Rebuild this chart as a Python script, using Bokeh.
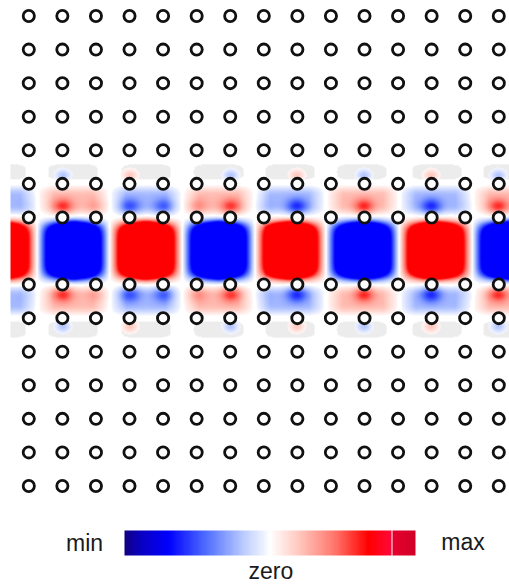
import numpy as np
from bokeh.plotting import figure
from bokeh.models import LinearColorMapper, Range1d
from bokeh.core.properties import value
from bokeh.embed import file_html
from bokeh.resources import INLINE

# Square lattice of dielectric rods (lattice constant = 1); row 0 is removed (line defect)
rod_cols = list(range(15))
rod_rows = [-7, -6, -5, -4, -3, -2, -1, 1, 2, 3, 4, 5, 6, 7]

# Guided mode along the defect: lobe centres (lattice units) and field sign of each lobe
lobe_x = [-0.84, 1.30, 3.48, 5.64, 7.80, 9.93, 12.17, 14.28]
lobe_sign = [1, -1, 1, -1, 1, -1, 1, -1]

# Colour scale labels
bar_labels = ["min", "zero", "max"]

PX = 33.57  # screen pixels per lattice constant

# ---- colour map: blue (min) -> white (zero) -> red (max) ----
stops = [
    (0.00, (18, 0, 130)),
    (0.05, (10, 0, 190)),
    (0.15, (0, 0, 255)),
    (0.28, (80, 110, 255)),
    (0.40, (180, 198, 255)),
    (0.50, (255, 255, 255)),
    (0.60, (255, 200, 190)),
    (0.72, (255, 120, 110)),
    (0.84, (255, 0, 0)),
    (0.915, (255, 8, 56)),
    (0.925, (230, 0, 44)),
    (1.00, (208, 0, 40)),
]
pos = np.array([s[0] for s in stops])
rgb = np.array([s[1] for s in stops], dtype=float)
t = np.linspace(0, 1, 256)
palette = []
for ti in t:
    c = [np.interp(ti, pos, rgb[:, k]) for k in range(3)]
    palette.append("#%02x%02x%02x" % tuple(int(round(v)) for v in c))
palette[235] = "#ffffff"  # thin separator in the red end of the scale

mapper = LinearColorMapper(palette=palette, low=-1.0, high=1.0,
                           nan_color="rgba(0, 0, 0, 0)")
gray_mapper = LinearColorMapper(palette=["#ececec"], low=0, high=2,
                                nan_color="rgba(0, 0, 0, 0)")

# ---- field of the guided mode ----
x0_img, x1_img = -0.545, 14.32
y0_img, y1_img = -3.0, 3.0
nx, ny = 500, 202
xs = np.linspace(x0_img, x1_img, nx)
ys = np.linspace(y0_img, y1_img, ny)
X, Y = np.meshgrid(xs, ys)
dpx = np.abs(Y) * PX  # distance from the waveguide axis in pixels

half = float(np.mean(np.diff(lobe_x)))
C = np.zeros_like(X)
for xc, s in zip(lobe_x, lobe_sign):
    u = (X - xc) / half
    C += s * np.where(np.abs(u) < 1, np.cos(np.pi * u / 2), 0.0)

# main lobes in the defect row
main = 2.6 * C * np.exp(-(dpx / 27.5) ** 6)
# weaker lobes of opposite sign beyond the first rod rows
band = np.exp(-((dpx - 50.0) / 12.5) ** 4)
side = -0.24 * np.clip(2.0 * C, -1, 1) * band

spots = np.zeros_like(X)
gray = np.zeros_like(X)
for xc, s in zip(lobe_x, lobe_sign):
    for k in rod_cols:
        w = np.exp(-((k - xc) * PX / 22.0) ** 4)
        if w > 0.05:
            spots -= s * 0.38 * w * np.exp(-(((X - k) * PX) ** 2) / (2 * 7.0 ** 2)
                                           - ((dpx - 44.0) ** 2) / (2 * 5.5 ** 2))
    k0 = int(round(xc))
    spots += s * 0.2 * np.exp(-(((X - k0) * PX) ** 2) / (2 * 5.0 ** 2)
                              - ((dpx - 76.0) ** 2) / (2 * 4.0 ** 2))
    gray += np.exp(-((X - xc) * PX / 27.0) ** 4 - ((dpx - 79.0) / 9.0) ** 4)

field = np.clip(main + side + spots, -0.70, 0.68)
field[np.abs(field) < 0.03] = np.nan
gray_img = np.where(gray > 0.5, 1.0, np.nan)

# ---- figure ----
W, H = 509, 586
p = figure(width=W, height=H, output_backend="svg", toolbar_location=None,
           x_range=Range1d(-28.3 / PX, (W - 28.3) / PX),
           y_range=Range1d((250.5 - H) / PX, 250.5 / PX),
           x_axis_type=None, y_axis_type=None, min_border=0)
p.grid.visible = False
p.outline_line_color = None
p.background_fill_color = "white"
p.border_fill_color = "white"

p.image(image=[gray_img], x=x0_img, y=y0_img, dw=x1_img - x0_img,
        dh=y1_img - y0_img, color_mapper=gray_mapper)
p.image(image=[field], x=x0_img, y=y0_img, dw=x1_img - x0_img,
        dh=y1_img - y0_img, color_mapper=mapper)

# rods
rx = [c for r in rod_rows for c in rod_cols]
ry = [r for r in rod_rows for c in rod_cols]
p.circle(x=rx, y=ry, radius=5.6 / PX, fill_color="white",
         line_color="#111111", line_width=2.8)

# colour scale drawn with the same mapper
bar = np.linspace(-1.0, 1.0, 512)[None, :]
bx0, bw = (124 - 28.3) / PX, 291 / PX
by0, bh = (250.5 - 555) / PX, 25 / PX
p.image(image=[bar], x=bx0, y=by0, dw=bw, dh=bh, color_mapper=mapper)

lx = [(84 - 28.3) / PX, (270.4 - 28.3) / PX, (462.5 - 28.3) / PX]
ly = [(250.5 - 542) / PX, (250.5 - 570) / PX, (250.5 - 541.5) / PX]
p.text(x=lx, y=ly, text=bar_labels, text_font=value("Liberation Sans"),
       text_font_size="23px", text_align="center", text_baseline="alphabetic",
       text_color="#1a1a1a")

open("out.html", "w").write(file_html(p, INLINE))
